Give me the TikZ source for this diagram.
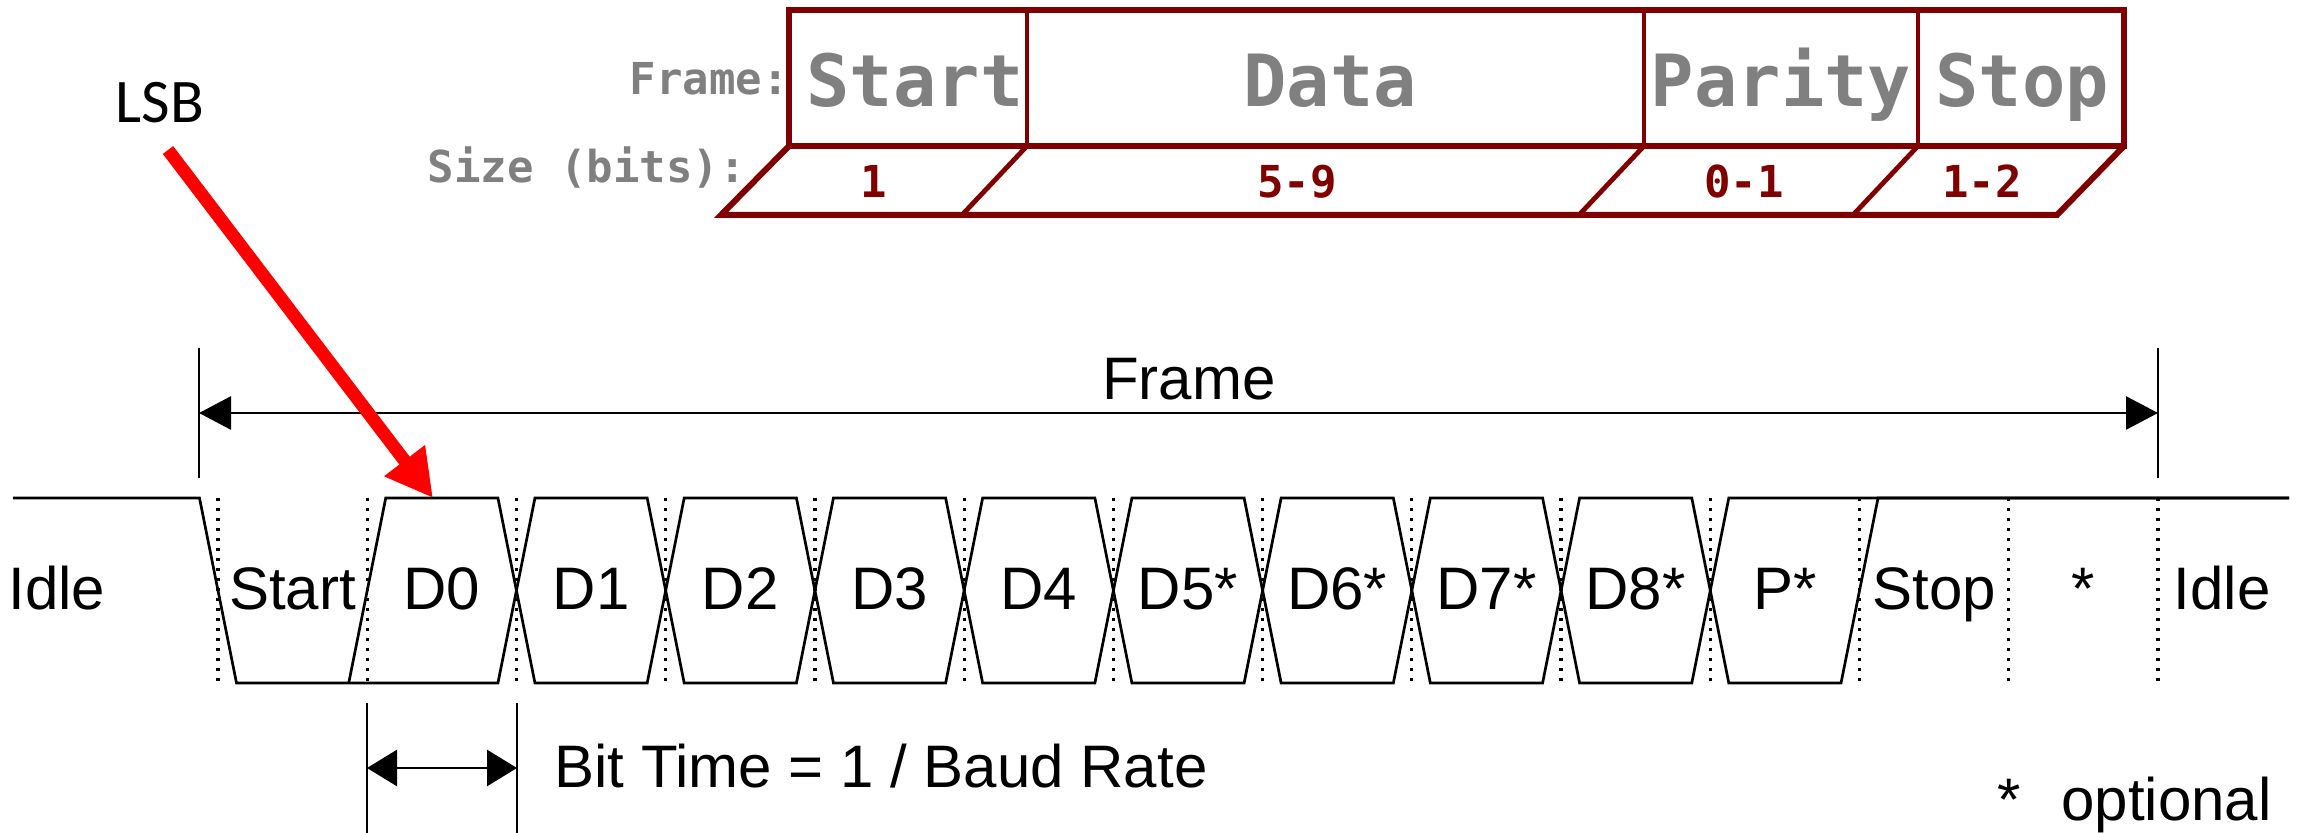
\documentclass[tikz,border=0pt]{standalone}
\usepackage{fontspec}
\setmainfont{Liberation Sans}
\newfontfamily\lsbfont{Carlito}
\newfontfamily\tblfont{DejaVu Sans Mono}
\usetikzlibrary{arrows.meta}
\definecolor{tblred}{HTML}{800000}
\definecolor{tblgray}{HTML}{808080}
\definecolor{lsbred}{HTML}{FF0000}
\begin{document}
\begin{tikzpicture}[x=0.5pt,y=-0.5pt,
  sig/.style={line width=1.35pt, line join=miter},
  dots/.style={line width=1.6pt, dash pattern=on 1.6pt off 3.4pt},
  dimline/.style={line width=1.35pt},
  lbl/.style={font=\fontsize{30}{36}\selectfont, inner sep=0pt, anchor=base},
  tline/.style={draw=tblred, line width=2.4pt, line join=miter},
  tbig/.style={font=\tblfont\bfseries\fontsize{36}{40}\selectfont, text=tblgray, inner sep=0pt, anchor=base},
  tsmall/.style={font=\tblfont\bfseries\fontsize{22}{26}\selectfont, text=tblgray, inner sep=0pt, anchor=base east},
  tnum/.style={font=\tblfont\bfseries\fontsize{22}{26}\selectfont, text=tblred, inner sep=0pt, anchor=base},
  ftip/.tip={Triangle[length=16pt,width=16.5pt]}
]
\useasboundingbox (0,0) rectangle (2303,833);

% ---------- frame format table ----------
\draw[tline, line width=3pt] (789,10) rectangle (2124,146);
\foreach \x in {1027,1644,1918} \draw[tline] (\x,10) -- (\x,146);
\draw[tline, line width=3pt] (789,146) -- (721,215) -- (2057,215) -- (2124,146);
\foreach \x in {1027,1644,1918} \draw[tline] (\x,146) -- (\x-65,215);

\node[tsmall] (lframe) at (789,95) {Frame:};
\node[tsmall] (lsize) at (746,183) {Size (bits):};
\node[tbig] (tstart) at (915,107) {Start};
\node[tbig] (tdata) at (1330,107) {Data};
\node[tbig] (tpar) at (1781,107) {Parity};
\node[tbig] (tstop) at (2022,107) {Stop};
\node[tnum] (nstart) at (874,198) {1};
\node[tnum] (ndata) at (1297,198) {5-9};
\node[tnum] (npar) at (1744,198) {0-1};
\node[tnum] (nstop) at (1982,198) {1-2};

% ---------- dotted bit boundaries ----------
\foreach \k in {0,...,13}
  \draw[dots] ({218+\k*149.23},498) -- ({218+\k*149.23},683);

% ---------- waveform ----------
\draw[sig] (13,498) -- ({218-18.5},498) -- ({218+18.5},683)
  \foreach \k/\ya/\yb in {2/683/498,3/498/683,4/683/498,5/498/683,6/683/498,7/498/683,8/683/498,9/498/683,10/683/498}
  { -- ({218+\k*149.23-18.5},\ya) -- ({218+\k*149.23+18.5},\yb) }
  -- (2289,498);
\draw[sig] ({218+149.23-18.5},683) -- ({218+149.23+18.5},498)
  \foreach \k/\ya/\yb in {2/498/683,3/683/498,4/498/683,5/683/498,6/498/683,7/683/498,8/498/683,9/683/498,10/498/683}
  { -- ({218+\k*149.23-18.5},\ya) -- ({218+\k*149.23+18.5},\yb) }
  -- ({218+11*149.23-18.5},683) -- ({218+11*149.23+18.5},498) -- (2289,498);

% ---------- bit labels ----------
\node[lbl] (idleL) at (57,610) {Idle};
\foreach \k/\t/\n in {0/Start/bstart,1/D0/bd0,2/D1/bd1,3/D2/bd2,4/D3/bd3,5/D4/bd4,6/D5*/bd5,7/D6*/bd6,8/D7*/bd7,9/D8*/bd8,10/P*/bpar,11/Stop/bstop,12/*/bopt}
  \node[lbl] (\n) at ({218+(\k+0.5)*149.23},610) {\t};
\node[lbl] (idleR) at (2222,610) {Idle};

% ---------- frame dimension ----------
\coordinate (fl) at (199,413);
\coordinate (fr) at (2158,413);
\draw[dimline] (199,348) -- (199,478);
\draw[dimline] (2158,348) -- (2158,478);
\draw[dimline, ftip-ftip] (fl) -- (fr);
\node[lbl] (frame) at (1189,400) {Frame};

% ---------- bit time ----------
\coordinate (bl) at (367,768);
\coordinate (br) at (517,768);
\draw[dimline] (367,703) -- (367,840);
\draw[dimline] (517,703) -- (517,840);
\draw[dimline, {Triangle[length=15pt,width=18pt]}-{Triangle[length=15pt,width=18pt]}] (bl) -- (br);
\node[lbl, anchor=base west] (bittime) at (554,787) {Bit Time = 1 / Baud Rate};

% ---------- optional note ----------
\node[lbl] (ostar) at (2009,820) {*};
\node[lbl, anchor=base east] (onote) at (2272,820) {optional};

% ---------- LSB arrow ----------
\node[font=\lsbfont\fontsize{31}{37}\selectfont, inner sep=0pt, anchor=base] (lsb) at (160,123) {LSB};
\coordinate (lsbs) at (168,150);
\coordinate (lsbt) at (433,498);
\draw[line width=6.5pt, lsbred, -{Triangle[length=23.5pt,width=24pt]}] (lsbs) -- (lsbt);
\end{tikzpicture}
\end{document}
